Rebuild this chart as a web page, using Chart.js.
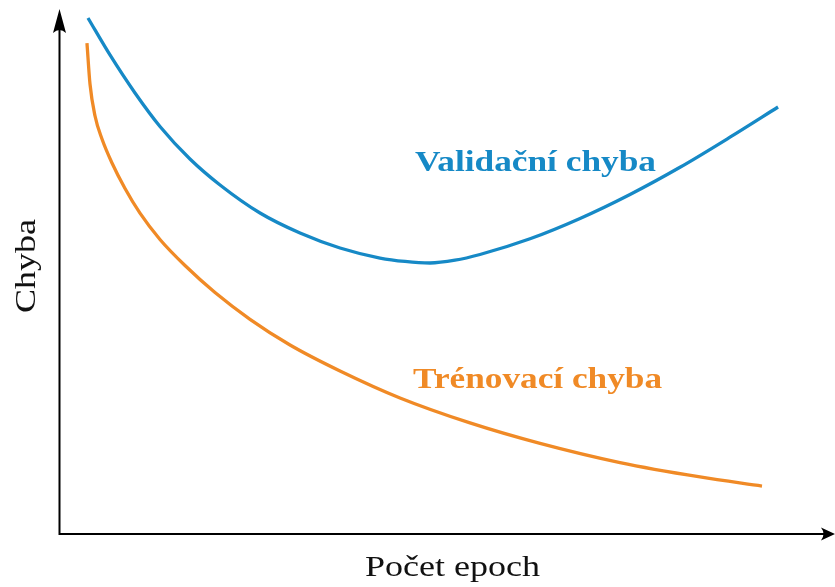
<!DOCTYPE html>
<html>
<head>
<meta charset="utf-8">
<script src="https://cdn.jsdelivr.net/npm/chart.js@4/dist/chart.umd.min.js"></script>
<style>
html,body{margin:0;padding:0;background:#fff;}
#wrap{width:835px;height:587px;position:relative;}
</style>
</head>
<body>
<div id="wrap"><canvas id="c" width="835" height="587"></canvas></div>
<script>
// Data (arbitrary units: epochs 0..100, error 0..100)
const validationEpochs = [3.61, 6.45, 9.68, 12.90, 16.77, 20.65, 25.81, 30.97, 36.13, 41.29, 44.52, 47.74, 50.97, 54.19, 60.65, 67.10, 73.55, 80.0, 86.45, 92.65];
const validationError  = [98.48, 91.43, 84.19, 77.81, 71.62, 66.67, 61.33, 57.52, 54.67, 52.76, 52.10, 51.81, 52.34, 53.43, 56.42, 60.29, 64.86, 70.04, 75.77, 81.52];
const trainingEpochs = [3.48, 3.87, 4.52, 5.42, 6.71, 8.39, 10.32, 12.90, 16.13, 20.0, 24.52, 29.68, 36.13, 43.87, 52.90, 61.94, 72.26, 82.58, 90.58];
const trainingError  = [93.71, 85.90, 79.81, 75.43, 70.86, 66.0, 61.30, 56.29, 51.33, 46.19, 41.09, 36.19, 31.24, 26.10, 21.35, 17.45, 13.79, 11.05, 9.33];
const seriesLabels = ['Validační chyba', 'Trénovací chyba'];
const xAxisTitle = 'Počet epoch';
const yAxisTitle = 'Chyba';

const BLUE = '#1689c6';
const ORANGE = '#f08a26';

function pts(xs, ys){ return xs.map((x,i)=>({x:x, y:ys[i]})); }

function fitText(ctx, text, font, x, y, width){
  ctx.font = font;
  const w = ctx.measureText(text).width;
  const s = width / w;
  ctx.save();
  ctx.translate(x, y);
  ctx.scale(s, 1);
  ctx.fillText(text, 0, 0);
  ctx.restore();
}

const decor = {
  id: 'decor',
  afterDraw(chart){
    const ctx = chart.ctx;
    ctx.save();
    ctx.strokeStyle = '#000';
    ctx.fillStyle = '#000';
    ctx.lineWidth = 2;
    ctx.beginPath();
    ctx.moveTo(59.5, 535);
    ctx.lineTo(59.5, 26);
    ctx.moveTo(59.5, 534);
    ctx.lineTo(826, 534);
    ctx.stroke();
    ctx.beginPath();
    ctx.moveTo(59.5, 9);
    ctx.lineTo(66, 33);
    ctx.quadraticCurveTo(59.5, 27, 53, 33);
    ctx.closePath();
    ctx.fill();
    ctx.beginPath();
    ctx.moveTo(835, 534);
    ctx.lineTo(821, 540.5);
    ctx.quadraticCurveTo(826, 534, 821, 527.5);
    ctx.closePath();
    ctx.fill();

    ctx.textBaseline = 'alphabetic';
    ctx.textAlign = 'left';
    ctx.fillStyle = BLUE;
    fitText(ctx, seriesLabels[0], 'bold 29px "Liberation Serif"', 415, 171, 241);
    ctx.fillStyle = ORANGE;
    fitText(ctx, seriesLabels[1], 'bold 29px "Liberation Serif"', 413, 388, 249);

    ctx.fillStyle = '#111';
    fitText(ctx, xAxisTitle, '30px "Liberation Serif"', 365, 576, 175);
    ctx.save();
    ctx.translate(35, 313);
    ctx.rotate(-Math.PI/2);
    fitText(ctx, yAxisTitle, '30px "Liberation Serif"', 0, 0, 94);
    ctx.restore();
    ctx.restore();
  }
};

new Chart(document.getElementById('c'), {
  type: 'line',
  data: {
    datasets: [
      { label: seriesLabels[0], data: pts(validationEpochs, validationError),
        borderColor: BLUE, borderWidth: 3.3, pointRadius: 0, fill: false,
        cubicInterpolationMode: 'monotone', clip: false },
      { label: seriesLabels[1], data: pts(trainingEpochs, trainingError),
        borderColor: ORANGE, borderWidth: 3.3, pointRadius: 0, fill: false,
        cubicInterpolationMode: 'monotone', clip: false }
    ]
  },
  options: {
    responsive: false,
    animation: false,
    events: [],
    layout: { padding: { left: 60, right: 0, top: 10, bottom: 52 } },
    plugins: { legend: { display: false }, tooltip: { enabled: false }, title: { display: false } },
    scales: {
      x: { type: 'linear', min: 0, max: 100, display: false },
      y: { type: 'linear', min: 0, max: 100, display: false }
    }
  },
  plugins: [decor]
});
</script>
</body>
</html>
